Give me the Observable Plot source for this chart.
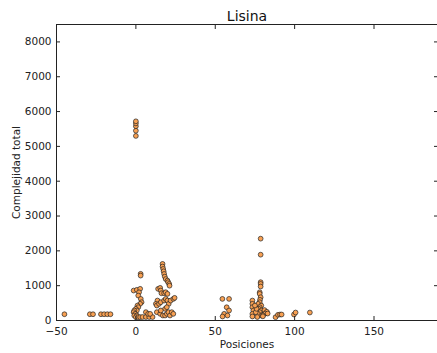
<!DOCTYPE html>
<html>
<head>
<meta charset="utf-8">
<script src="https://cdn.jsdelivr.net/npm/d3@7"></script>
<script src="https://cdn.jsdelivr.net/npm/@observablehq/plot@0.6"></script>
<style>
  html, body { margin: 0; padding: 0; background: #fff; }
  #chart { position: relative; width: 437px; height: 353px; }
</style>
</head>
<body>
<div id="chart"></div>
<script>
const title = "Lisina";
const xLabel = "Posiciones";
const yLabel = "Complejidad total";
const xTicks = [-50, 0, 50, 100, 150];
const yTicks = [0, 1000, 2000, 3000, 4000, 5000, 6000, 7000, 8000];

const posiciones = [
  -45, -29, -27, -22, -20, -18, -16,
  0, 0, 0, 0, 0,
  3, 3,
  -1.4, 0.6, 2.7, 2, 1.5, 3.1, 3.6, 2.7,
  1.0, 1.5, 0, 0.6, -1, -1.4, -0.5, -1, 0.6, 0, 1.5, 2.7,
  4.2, 6.3, 8.4, 10.5, 6.3, 7.7, 9,
  16.8, 16.8, 17.2, 17.5, 17.8, 18.2, 18.8, 19.9, 20.3, 21, 21.2,
  14, 15.3, 15.7, 16.1, 17.8, 18.8, 19.9,
  13.6, 12.6, 13.2, 14.6, 15.7, 17.8, 18.8, 19.9, 20.7, 21.9, 23.6, 24.4,
  13.2, 15.3, 17, 18.4, 19.5, 20.5, 21.5, 22.6, 23.6, 18.4, 19.5, 15.7,
  54.5, 58.7, 57.2, 58.7, 55.6, 54.6, 57.7,
  78.6, 78.6, 78.6, 78.6, 78.6, 78, 78, 78.6, 78.2,
  78, 77, 79, 78, 77.5, 79, 78, 77, 79,
  73.4, 73.4, 73.4, 74, 73.4, 73.4,
  75.5, 76, 75, 81, 82.5, 81.5, 83, 80, 76.5, 80,
  88, 89.5, 90.8, 91.8, 99.6, 100.6, 109.6
];
const complejidad = [
  180, 180, 180, 180, 180, 180, 180,
  5300, 5450, 5580, 5660, 5720,
  1340, 1290,
  860, 880, 910, 810, 716, 620, 525, 478,
  430, 382, 335, 287, 287, 239, 191, 143, 143, 96, 96, 96,
  100, 100, 100, 100, 240, 190, 190,
  1625, 1548, 1480, 1413, 1337, 1260, 1190, 1145, 1100, 1050, 1000,
  908, 937, 860, 783, 783, 812, 764,
  573, 478, 430, 478, 525, 573, 620, 573, 478, 573, 620, 650,
  239, 191, 143, 143, 191, 239, 143, 239, 191, 335, 382, 287,
  620, 620, 380, 287, 191, 115, 143,
  2350, 1890, 1100, 1050, 975, 810, 765, 668, 593,
  525, 478, 430, 382, 335, 287, 239, 191, 143,
  573, 478, 382, 287, 191, 115,
  239, 335, 430, 300, 250, 200, 200, 150, 100, 120,
  95, 163, 172, 172, 172, 229, 229
];

const data = posiciones.map((x, i) => ({x, y: complejidad[i]}));

const font = "DejaVu Sans, sans-serif";
const fmt = d => d < 0 ? "\u2212" + Math.abs(d) : String(d);

const plot = Plot.plot({
  width: 437,
  height: 353,
  marginLeft: 56,
  marginRight: 0,
  marginTop: 24,
  marginBottom: 33,
  style: {fontFamily: font, fontSize: "10px", color: "#222", background: "#fff", overflow: "visible"},
  x: {domain: [-50, 190], ticks: xTicks, tickFormat: fmt},
  y: {domain: [0, 8500], ticks: yTicks, tickFormat: fmt},
  marks: [
    Plot.dot(data, {x: "x", y: "y", r: 2.4, fill: "#f8a052", stroke: "#222", strokeWidth: 0.7}),
    Plot.axisX({anchor: "bottom", ticks: xTicks, tickFormat: fmt, tickSize: -4, tickPadding: 11, label: xLabel, labelAnchor: "center", labelArrow: "none", labelOffset: 27, fontSize: 10.5}),
    Plot.axisX({anchor: "top", ticks: xTicks, tickSize: -4, tickFormat: () => "", label: null}),
    Plot.axisY({anchor: "left", ticks: yTicks, tickFormat: fmt, tickSize: -4, tickPadding: 9, label: yLabel, labelAnchor: "center", labelArrow: "none", labelOffset: 44, fontSize: 10.5}),
    Plot.axisY({anchor: "right", ticks: yTicks, tickSize: -4, tickFormat: () => "", label: null}),
    Plot.ruleX([-50], {stroke: "#222", strokeWidth: 1}),
    Plot.ruleY([0], {stroke: "#222", strokeWidth: 1}),
    Plot.ruleY([8500], {stroke: "#222", strokeWidth: 1}),
    Plot.text([title], {frameAnchor: "top", dy: -8, text: d => d, fontSize: 14, fill: "#111", lineAnchor: "middle"})
  ]
});

document.getElementById("chart").appendChild(plot);
</script>
</body>
</html>
